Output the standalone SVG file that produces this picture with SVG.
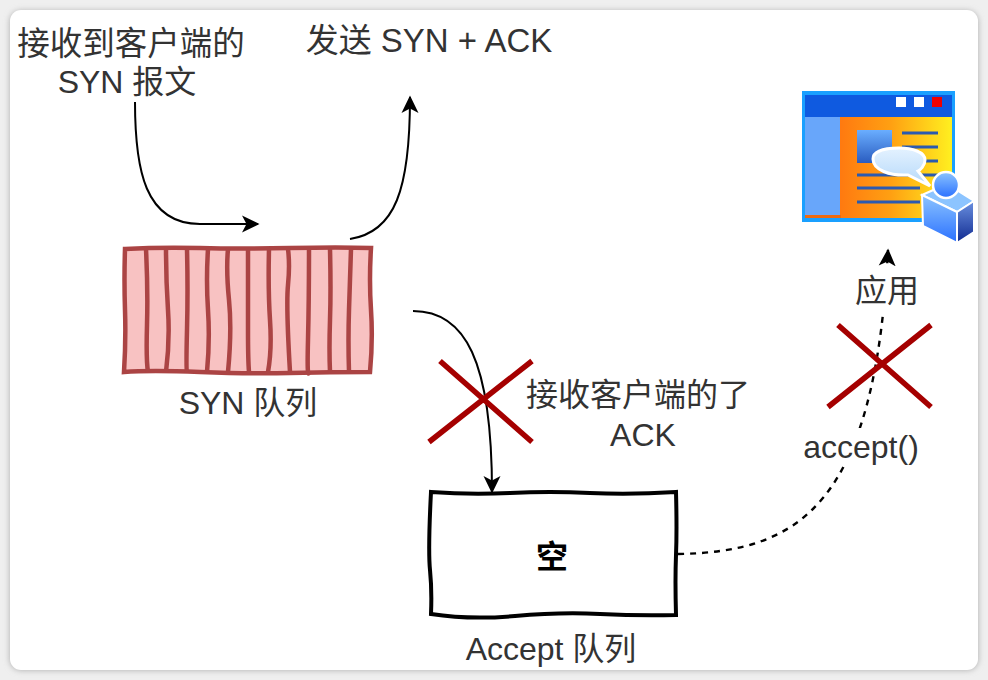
<svg xmlns="http://www.w3.org/2000/svg" width="988" height="680" viewBox="0 0 988 680">
<defs>
<filter id="sh" x="-5%" y="-5%" width="110%" height="110%"><feGaussianBlur stdDeviation="3"/></filter>
<linearGradient id="og" gradientUnits="userSpaceOnUse" x1="841" x2="952" y1="0" y2="0"><stop offset="0" stop-color="#ff7a10"/><stop offset="0.45" stop-color="#ffa012"/><stop offset="1" stop-color="#fff020"/></linearGradient>
<linearGradient id="bg" x1="0" x2="0" y1="0" y2="1"><stop offset="0" stop-color="#6aaeff"/><stop offset="1" stop-color="#2a5cc0"/></linearGradient>
<linearGradient id="cb" x1="0" x2="0" y1="0" y2="1"><stop offset="0" stop-color="#8cc4ff"/><stop offset="1" stop-color="#2a70ff"/></linearGradient>
<linearGradient id="cd" x1="0" x2="0" y1="0" y2="1"><stop offset="0" stop-color="#6a90e0"/><stop offset="1" stop-color="#102a90"/></linearGradient>
<linearGradient id="bb" x1="0" x2="0" y1="0" y2="1"><stop offset="0" stop-color="#e4f2ff"/><stop offset="1" stop-color="#b4d8fa"/></linearGradient>
<marker id="arr" viewBox="0 0 18 18" refX="16" refY="9" markerWidth="18" markerHeight="18" markerUnits="userSpaceOnUse" orient="auto"><path d="M0 0.500 L17.500 9 L0 17.500 L4.500 9 Z" fill="#000"/></marker>
</defs>
<style>
text{font-family:"Liberation Sans","Noto Sans CJK SC",sans-serif;font-size:32px;fill:#333;text-anchor:middle}
.c{fill:none;stroke:#000;stroke-width:2}
.x{stroke:#a50000;stroke-width:5.500;fill:none}
.s{fill:none;stroke:#ab4444;stroke-width:4.500}
.l{stroke:#2a5ab0;stroke-width:3;fill:none}
.b{fill:#fff}
</style>
<rect width="988" height="680" fill="#efefef"/>
<rect x="10" y="11" width="968" height="659" rx="11" fill="#aaa" filter="url(#sh)"/>
<rect x="10" y="10" width="968" height="660" rx="11" fill="#fff"/>

<g id="syn-queue">
<path d="M125 249 Q160 247 200 248 T290 248 T371 248 Q369 280 371 310 T370 372 Q330 372 290 373 T200 372 T124 372 Q126 340 125 310 T125 249 Z" fill="#f8c2c2" stroke="#ab4444" stroke-width="4.500"/>
<path class="s" d="M146 249 Q148 290 147 325 T148 372"/>
<path class="s" d="M166 249 Q166 280 168 310 T166 372"/>
<path class="s" d="M187 249 Q188 290 187 330 T187 372"/>
<path class="s" d="M208 249 Q206 280 208 310 T207 372"/>
<path class="s" d="M228 249 Q226 270 229 300 T228 372"/>
<path class="s" d="M248 249 Q248 300 248 330 T249 372"/>
<path class="s" d="M269 249 Q268 290 270 320 T268 372"/>
<path class="s" d="M288 249 Q290 265 288 285 T290 372"/>
<path class="s" d="M309 249 Q309 300 308 340 T309 372"/>
<path class="s" d="M330 249 Q331 290 330 320 T330 372"/>
<path class="s" d="M351 249 Q350 280 349 310 T349 372"/>
</g>
<text x="248" y="414">SYN 队列</text>

<g id="accept-queue">
<path d="M431 492 Q470 495 510 493 T590 493 T676 492 Q677 530 676 555 T676 615 Q640 616 600 614 T515 616 T431 614 Q432 590 430 570 T431 492 Z" fill="#fff" stroke="#000" stroke-width="4"/>
<text x="552" y="568" style="font-weight:700;fill:#000;font-size:32px">空</text>
</g>
<text x="551" y="660">Accept 队列</text>

<g id="connectors">
<path class="c" d="M135 102 C135 170 145 224 200 224 L258 224" marker-end="url(#arr)"/>
<path class="c" d="M350 239 C395 232 410 190 410 97" marker-end="url(#arr)"/>
<path class="c" d="M413 311 C465 311 492 360 492 492" marker-end="url(#arr)"/>
<path class="c" d="M678 554 C800 552 875 505 888 250" style="stroke-width:2.400" stroke-dasharray="6 6" marker-end="url(#arr)"/>
</g>

<path class="x" d="M429 442 L532 361 M440 361 L532 442"/>
<path class="x" d="M828 407 L931 325 M838 325 L931 407"/>

<text x="131" y="55" style="font-size:32.500px">接收到客户端的</text>
<text x="127" y="93">SYN 报文</text>
<text x="429" y="52" style="font-size:33px">发送 SYN + ACK</text>
<text x="638" y="406">接收客户端的了</text>
<text x="643" y="446">ACK</text>
<rect class="b" x="803" y="428" width="116" height="37"/>
<text x="861" y="458">accept()</text>
<rect class="b" x="855" y="268" width="64" height="44"/>
<text x="887" y="302">应用</text>

<g id="app-icon">
<rect x="802" y="91" width="153" height="131" fill="#1aa0ff"/>
<rect x="805" y="95" width="147" height="22" fill="#0f5ae0"/>
<rect x="805" y="117" width="147" height="101" fill="url(#og)"/>
<rect x="805" y="215" width="36" height="3" fill="#ee6a10"/>
<rect x="805" y="117" width="35" height="98" fill="#68a6fa"/>
<rect x="896" y="97" width="10" height="10" fill="#fff"/>
<rect x="914" y="97" width="10" height="10" fill="#fff"/>
<rect x="932" y="97" width="10" height="10" fill="#f00000"/>
<rect x="857" y="130" width="35" height="33" fill="url(#bg)"/>
<path class="l" d="M902 133H938M902 147H938M902 161H938M857 175H938M857 188H920M857 202H920"/>
<path d="M873 159 C873 150 888 148 899 148 C912 148 925 152 925 160 C925 166 920 170 918 171 L930 186 L908 175 C890 176 873 170 873 159 Z" fill="url(#bb)" stroke="#fff" stroke-width="3"/>
<path d="M922 195 L947 184 L974 201 L957 212 Z" fill="#8cc4ff" stroke="#fff" stroke-width="2"/>
<path d="M922 195 L957 212 L957 243 L923 226 Z" fill="url(#cb)" stroke="#fff" stroke-width="2"/>
<path d="M957 212 L974 201 L974 232 L957 243 Z" fill="url(#cd)" stroke="#fff" stroke-width="2"/>
<circle cx="946" cy="185" r="13" fill="url(#cb)" stroke="#fff" stroke-width="2.500"/>
</g>
</svg>
